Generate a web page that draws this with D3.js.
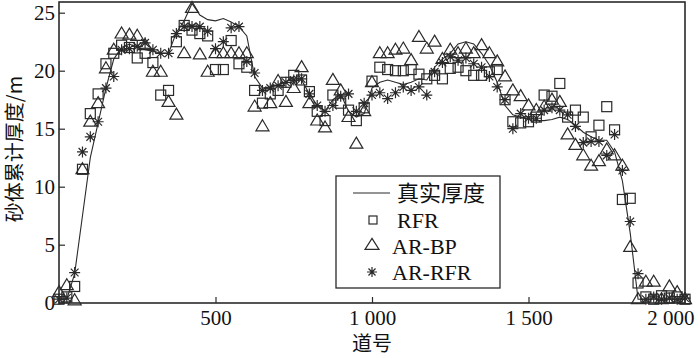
<!DOCTYPE html>
<html><head><meta charset="utf-8">
<script src="https://cdn.jsdelivr.net/npm/d3@7"></script>
<style>body{margin:0;background:#fff}svg{display:block}</style>
</head><body><svg id="c" width="700" height="358"></svg>
<script>
// trace numbers (道号)
const traces = [0,25,50,75,100,125,150,175,200,225,250,275,300,325,350,375,400,425,450,475,
  500,525,550,575,600,625,650,675,700,725,750,775,800,825,850,875,900,925,950,975,
  1000,1025,1050,1075,1100,1125,1150,1175,1200,1225,1250,1275,1300,1325,1350,1375,1400,1425,1450,1475,
  1500,1525,1550,1575,1600,1625,1650,1675,1700,1725,1750,1775,1800,1825,1850,1875,1900,1925,1950,1975,2000];
// 真实厚度
const trueThk = [0.3,0.3,2.5,7.5,12.5,15.5,18.5,21.0,22.0,22.3,
  22.0,21.8,21.7,21.5,21.5,23.3,24.3,25.8,24.8,24.4,
  24.3,24.5,24.2,23.8,23.0,19.5,18.5,18.6,18.8,19.0,
  19.5,19.2,18.0,17.0,16.5,17.5,18.0,16.5,16.0,16.3,
  18.5,19.0,19.2,19.0,18.8,19.0,19.3,19.2,20.3,21.0,
  21.5,22.3,22.5,22.3,21.5,20.5,19.0,17.0,16.2,16.0,
  15.8,15.7,15.7,15.8,16.0,15.8,15.3,14.7,14.3,14.0,
  14.0,13.0,10.5,6.0,0.3,0.3,0.3,0.3,0.3,0.3,0.3];
// RFR
const rfr = [0.3,0.5,1.4,11.5,16.3,18.0,20.6,21.5,22.2,22.0,
  21.1,21.5,20.7,17.9,18.3,22.5,23.9,23.5,23.2,23.0,
  20.1,20.1,22.6,20.6,20.3,18.3,17.2,18.0,18.3,19.0,
  19.6,19.2,18.2,16.5,15.7,17.9,17.2,16.6,15.7,16.8,
  19.1,20.3,20.1,20.0,20.0,20.1,19.7,19.3,19.6,19.3,
  20.2,20.3,20.0,19.6,19.6,19.9,20.1,17.5,15.6,15.5,
  15.6,16.0,17.9,17.8,18.9,16.0,16.6,16.0,14.3,15.3,
  16.9,14.9,8.9,9.0,1.7,0.5,0.3,0.6,0.4,0.5,0.3];
// AR-BP
const arbp = [0.9,1.5,0.2,11.5,15.6,17.2,20.2,21.8,23.2,23.1,
  23.0,22.2,19.9,19.9,17.3,16.2,21.5,25.4,21.4,19.9,
  21.5,21.5,21.5,21.5,21.5,16.9,15.2,17.2,19.1,17.3,
  18.5,20.3,17.2,15.7,15.1,19.2,18.3,16.0,13.7,16.5,
  19.0,21.5,21.5,21.8,21.9,20.9,22.9,21.9,22.5,21.0,
  21.8,21.5,21.9,21.5,22.2,21.5,20.8,19.5,18.3,17.8,
  17.0,16.6,16.9,17.5,17.3,14.5,13.6,12.7,11.8,12.2,
  13.2,12.7,11.8,4.8,0.3,1.8,1.8,0.3,1.4,0.9,0.3];
// AR-RFR
const arrfr = [0.3,0.4,2.6,13.0,14.3,15.6,18.5,19.5,21.8,21.9,
  22.1,22.4,21.8,21.5,21.5,23.2,23.8,23.8,23.8,23.4,
  21.9,22.5,23.7,23.8,20.8,19.8,18.3,18.5,18.7,19.0,
  19.2,19.3,18.0,17.0,16.5,17.0,17.8,18.0,16.5,17.2,
  17.9,18.1,17.6,18.1,18.6,18.3,18.6,17.9,19.9,20.7,
  21.2,20.9,21.1,20.6,20.3,19.5,18.6,17.5,15.0,16.3,
  15.9,15.9,16.6,16.8,16.6,16.2,15.2,13.8,13.9,13.9,
  12.7,14.5,11.4,7.0,2.5,0.3,0.5,0.3,0.4,0.3,0.4];
const xTicks = [500,1000,1500,2000];
const yTicks = [0,5,10,15,20,25];
const legendLabels = ["真实厚度","RFR","AR-BP","AR-RFR"];

const INK = "#2a2a2a";
const LAT = "'Liberation Serif','Times New Roman',serif";
const CJK = "'Noto Sans CJK SC','Liberation Serif',serif";

const svg = d3.select("#c");
const x = d3.scaleLinear().domain([0,2000]).range([59,685]);
const y = d3.scaleLinear().domain([0,25]).range([302.7,12.7]);

// frame
svg.append("rect").attr("x",59).attr("y",2).attr("width",626).attr("height",301)
  .attr("fill","none").attr("stroke",INK).attr("stroke-width",1.6);

const fmt = d3.formatLocale({decimal:".",thousands:" ",grouping:[3],currency:["",""]}).format(",");

const gx = svg.append("g").attr("transform","translate(0,303)")
  .call(d3.axisBottom(x).tickValues(xTicks).tickFormat(fmt).tickSizeInner(-6).tickSizeOuter(0).tickPadding(7));
const gy = svg.append("g").attr("transform","translate(59,0)")
  .call(d3.axisLeft(y).tickValues(yTicks).tickSizeInner(-6).tickSizeOuter(0).tickPadding(4));
[gx,gy].forEach(g=>{
  g.select(".domain").remove();
  g.selectAll("line").attr("stroke",INK).attr("stroke-width",1.2);
  g.selectAll("text").attr("fill","#111").style("font-family",LAT).style("font-size","21px");
});
// last x label kept inside the picture
gx.selectAll(".tick").filter(d=>d===2000).select("text").attr("text-anchor","end").attr("x",9);
gx.selectAll(".tick").filter(d=>d===2000).select("line").remove();

// axis titles
svg.append("text").attr("x",372).attr("y",351).attr("text-anchor","middle")
  .style("font-family",CJK).style("font-size","20px").attr("fill","#111").text("道号");
svg.append("text").attr("transform","translate(22,149) rotate(-90)").attr("text-anchor","middle")
  .style("font-family",CJK).style("font-size","20px").attr("fill","#111").text("砂体累计厚度/m");

const plot = svg.append("g");
const data = traces.map((t,i)=>({t, tv:trueThk[i], r:rfr[i], b:arbp[i], a:arrfr[i]}));

// true thickness line
plot.append("path").datum(data)
  .attr("d", d3.line().x(d=>x(d.t)).y(d=>y(d.tv)))
  .attr("fill","none").attr("stroke",INK).attr("stroke-width",1.1);

function sq(g,cx,cy,s){g.append("rect").attr("x",cx-s/2).attr("y",cy-s/2).attr("width",s).attr("height",s)
  .attr("fill","none").attr("stroke",INK).attr("stroke-width",1.2);}
function tri(g,cx,cy,w,h){g.append("path").attr("d",`M${cx},${cy-h*0.6}L${cx+w/2},${cy+h*0.4}L${cx-w/2},${cy+h*0.4}Z`)
  .attr("fill","none").attr("stroke",INK).attr("stroke-width",1.2);}
function star(g,cx,cy,r){
  let p="";
  [0,45,90,135].forEach(a=>{const rad=a*Math.PI/180, dx=r*Math.cos(rad), dy=r*Math.sin(rad);
    p+=`M${cx-dx},${cy-dy}L${cx+dx},${cy+dy}`;});
  g.append("path").attr("d",p).attr("stroke",INK).attr("stroke-width",1.2).attr("fill","none");
  g.append("circle").attr("cx",cx).attr("cy",cy).attr("r",1.3).attr("fill",INK);
}

const gs = plot.append("g"), gt = plot.append("g"), ga = plot.append("g");
data.forEach(d=>sq(gs,x(d.t),y(d.r),10));
data.forEach(d=>tri(gt,x(d.t),y(d.b),13,11));
data.forEach(d=>star(ga,x(d.t),y(d.a),5.5));

// legend
const lg = svg.append("g");
lg.append("rect").attr("x",336).attr("y",176).attr("width",164).attr("height",112)
  .attr("fill","#fff").attr("stroke",INK).attr("stroke-width",1.3);
lg.append("line").attr("x1",353).attr("x2",390).attr("y1",193).attr("y2",193).attr("stroke",INK).attr("stroke-width",1.1);
sq(lg,373,220,8);
tri(lg,372,245,14,11);
star(lg,372,272,5);
const ly = [193,220,246,272], lx = [397,397,392,392];
legendLabels.forEach((t,i)=>{
  lg.append("text").attr("x",lx[i]).attr("y",ly[i]).attr("dy","0.35em")
    .style("font-family", i===0?CJK:LAT).style("font-size", "22px").attr("fill","#111").text(t);
});
</script></body></html>
